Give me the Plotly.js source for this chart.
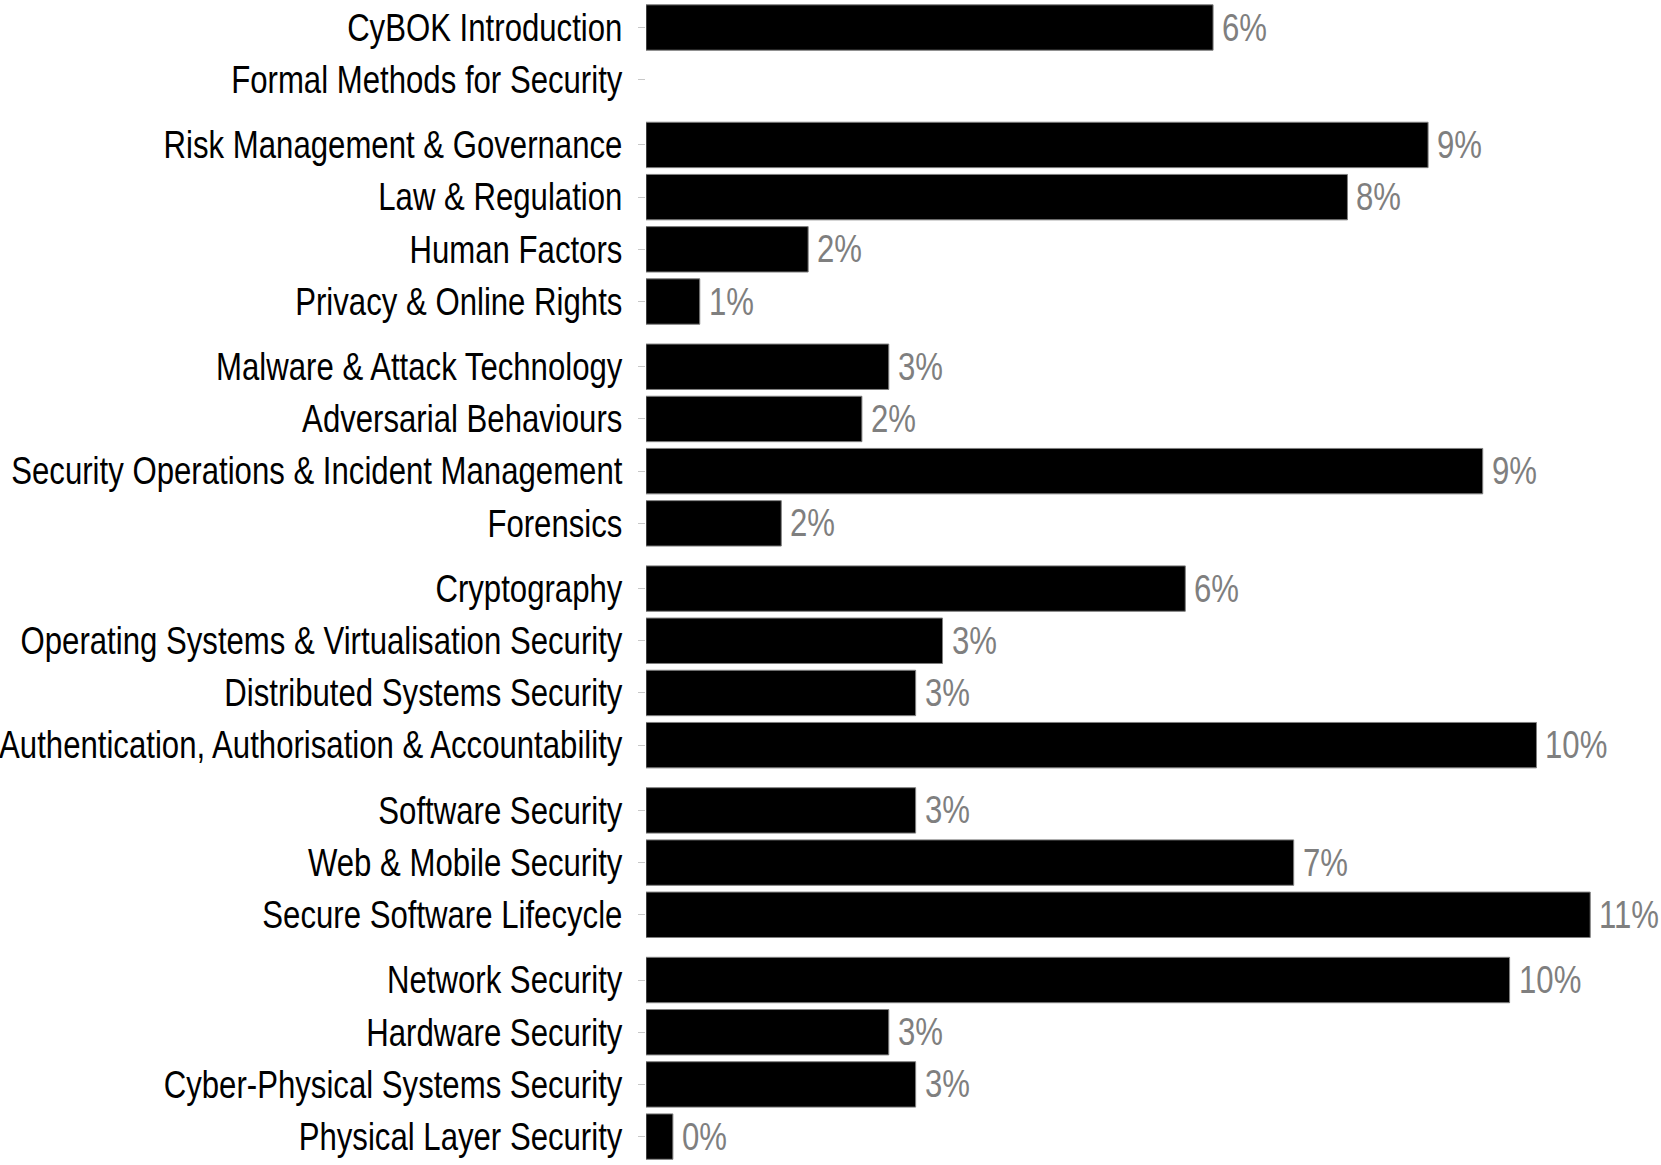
<!DOCTYPE html>
<html>
<head>
<meta charset="utf-8">
<script src="https://cdn.plot.ly/plotly-3.0.1.min.js"></script>
<style>html,body{margin:0;padding:0;background:#fff;}#chart{width:1661px;height:1165px;}</style>
</head>
<body>
<div id="chart"></div>
<script>
// Knowledge areas (top to bottom)
const categories = [
  "CyBOK Introduction",
  "Formal Methods for Security",
  "Risk Management & Governance",
  "Law & Regulation",
  "Human Factors",
  "Privacy & Online Rights",
  "Malware & Attack Technology",
  "Adversarial Behaviours",
  "Security Operations & Incident Management",
  "Forensics",
  "Cryptography",
  "Operating Systems & Virtualisation Security",
  "Distributed Systems Security",
  "Authentication, Authorisation & Accountability",
  "Software Security",
  "Web & Mobile Security",
  "Secure Software Lifecycle",
  "Network Security",
  "Hardware Security",
  "Cyber-Physical Systems Security",
  "Physical Layer Security"
];
// Group each category belongs to (groups are separated by a small gap)
const groups = [1,1, 2,2,2,2, 3,3,3,3, 4,4,4,4, 5,5,5, 6,6,6,6];
// Share of coverage in percent; null = no bar
const values = [6.33, null, 8.73, 7.83, 1.81, 0.60, 2.71, 2.41, 9.34, 1.51,
                6.02, 3.31, 3.01, 9.94, 3.01, 7.23, 10.54, 9.64, 2.71, 3.01, 0.30];
// Value labels as printed
const valueLabels = ["6%", "", "9%", "8%", "2%", "1%", "3%", "2%", "9%", "2%",
                     "6%", "3%", "3%", "10%", "3%", "7%", "11%", "10%", "3%", "3%", "0%"];

const GAP = 0.25;
const yPos = categories.map((c, i) => i + GAP * (groups[i] - 1));
const yMax = yPos[yPos.length - 1];

const FONT = "'Liberation Sans', Arial, Helvetica, sans-serif";
const NARROW = 0.82; // horizontal condensing to mimic a narrow Helvetica

const barIdx = values.map((v, i) => i).filter(i => values[i] !== null);

const trace = {
  type: 'bar',
  orientation: 'h',
  y: barIdx.map(i => yPos[i]),
  x: barIdx.map(i => values[i]),
  width: 0.87,
  marker: {color: '#000000', line: {color: '#7f7f7f', width: 1}},
  hoverinfo: 'skip'
};

const annotations = barIdx.map(i => ({
  x: values[i], y: yPos[i], xref: 'x', yref: 'y',
  text: valueLabels[i], showarrow: false,
  xanchor: 'left', yanchor: 'middle', align: 'left', xshift: 7,
  font: {family: FONT, size: 38, color: '#7f7f7f'}
}));

const layout = {
  width: 1661, height: 1165,
  margin: {l: 646, r: 0, t: 0, b: 0, pad: 0},
  paper_bgcolor: '#ffffff', plot_bgcolor: '#ffffff',
  showlegend: false,
  xaxis: {range: [0, 11.33], visible: false, showgrid: false, zeroline: false, fixedrange: true},
  yaxis: {
    range: [yMax + 0.544, -0.527],
    tickmode: 'array', tickvals: yPos, ticktext: categories,
    ticks: 'outside', ticklen: 7, tickcolor: '#c8c8c8', tickwidth: 1,
    ticklabelstandoff: 8,
    showgrid: false, zeroline: false, showline: false,
    tickfont: {family: FONT, size: 38, color: '#000000'}
  },
  annotations: annotations
};

function condense(gd) {
  const nodes = gd.querySelectorAll('.ytick text, g.annotation text.annotation-text');
  nodes.forEach(t => {
    const x = parseFloat(t.getAttribute('x')) || 0;
    const tr = t.getAttribute('transform') || '';
    t.setAttribute('transform', tr + ' translate(' + x + ',0) scale(' + NARROW + ',1) translate(' + (-x) + ',0)');
  });
}

Plotly.newPlot('chart', [trace], layout, {displayModeBar: false, staticPlot: true}).then(condense);
</script>
</body>
</html>
